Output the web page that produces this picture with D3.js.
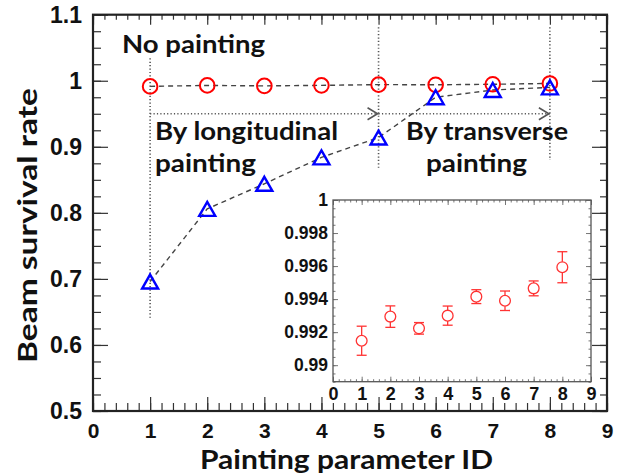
<!DOCTYPE html>
<html>
<head>
<meta charset="utf-8">
<script src="https://cdn.jsdelivr.net/npm/d3@7"></script>
<style>
  html, body { margin: 0; padding: 0; background: #fff; }
  svg { display: block; }
  .tick text { font-family: "Liberation Sans", Arial, sans-serif; font-weight: bold; fill: #111; }
  .title { font-family: "Lato", "Open Sans", sans-serif; font-weight: bold; fill: #111; }
</style>
</head>
<body>
<svg id="chart" width="625" height="475"></svg>
<script>
// Painting parameter IDs
const paramIds = [1, 2, 3, 4, 5, 6, 7, 8];
// Survival rate, circle series (with statistical errors)
const circleRate = [0.99148, 0.99294, 0.99223, 0.99300, 0.99415, 0.99390, 0.99465, 0.99593];
const circleErr  = [0.00088, 0.00065, 0.00035, 0.00058, 0.00042, 0.00059, 0.00045, 0.00094];
// Survival rate, triangle series
const triangleRate = [0.696, 0.806, 0.844, 0.884, 0.914, 0.975, 0.986, 0.990];

// Axis tick values
const xMajor = [0, 1, 2, 3, 4, 5, 6, 7, 8, 9];
const yMajor = [0.5, 0.6, 0.7, 0.8, 0.9, 1.0, 1.1];
const yMajorLabels = ["0.5", "0.6", "0.7", "0.8", "0.9", "1", "1.1"];
const insetYMajor = [0.990, 0.992, 0.994, 0.996, 0.998, 1.0];
const insetYLabels = ["0.99", "0.992", "0.994", "0.996", "0.998", "1"];

// Annotation text
const labelNoPainting = "No painting";
const labelLong = ["By longitudinal", "painting"];
const labelTrans = ["By transverse", "painting"];
const xTitle = "Painting parameter ID";
const yTitle = "Beam survival rate";

const svg = d3.select("#chart");

const x = d3.scaleLinear().domain([0, 9]).range([93, 607]);
const y = d3.scaleLinear().domain([0.5, 1.1]).range([411, 14.7]);

const frameColor = "#222";
const tickColor = "#333";

function minorValues(lo, hi, step) {
  const n = Math.round((hi - lo) / step);
  return d3.range(n + 1).map(i => +(lo + i * step).toFixed(6));
}

function styleAxis(g, color, width) {
  g.select(".domain").remove();
  g.selectAll(".tick line").attr("stroke", color).attr("stroke-width", width);
}

// ---- Main frame ticks (drawn inward) ----
const xMinor = minorValues(0, 9, 0.2);
const yMinor = minorValues(0.5, 1.1, 0.025);

// bottom
svg.append("g").attr("transform", `translate(0,${y(0.5)})`)
  .call(d3.axisBottom(x).tickValues(xMinor).tickSize(-8).tickFormat(""))
  .call(g => styleAxis(g, tickColor, 1.2));
svg.append("g").attr("transform", `translate(0,${y(0.5)})`)
  .call(d3.axisBottom(x).tickValues(xMajor).tickSize(-14).tickPadding(12).tickFormat(d3.format("d")))
  .call(g => styleAxis(g, tickColor, 1.2))
  .call(g => g.selectAll("text").style("font-size", "21px"));
// top
svg.append("g").attr("transform", `translate(0,${y(1.1)})`)
  .call(d3.axisTop(x).tickValues(xMinor).tickSize(-5).tickFormat(""))
  .call(g => styleAxis(g, tickColor, 1.2));
svg.append("g").attr("transform", `translate(0,${y(1.1)})`)
  .call(d3.axisTop(x).tickValues(xMajor).tickSize(-10).tickFormat(""))
  .call(g => styleAxis(g, tickColor, 1.2));
// left
svg.append("g").attr("transform", `translate(${x(0)},0)`)
  .call(d3.axisLeft(y).tickValues(yMinor).tickSize(-8).tickFormat(""))
  .call(g => styleAxis(g, tickColor, 1.2));
svg.append("g").attr("transform", `translate(${x(0)},0)`)
  .call(d3.axisLeft(y).tickValues(yMajor).tickSize(-15).tickPadding(11)
    .tickFormat((d, i) => yMajorLabels[i]))
  .call(g => styleAxis(g, tickColor, 1.2))
  .call(g => g.selectAll("text").style("font-size", "23px"));
// right
svg.append("g").attr("transform", `translate(${x(9)},0)`)
  .call(d3.axisRight(y).tickValues(yMinor).tickSize(-7).tickFormat(""))
  .call(g => styleAxis(g, tickColor, 1.2));
svg.append("g").attr("transform", `translate(${x(9)},0)`)
  .call(d3.axisRight(y).tickValues(yMajor).tickSize(-15).tickFormat(""))
  .call(g => styleAxis(g, tickColor, 1.2));

// frame
svg.append("rect")
  .attr("x", x(0)).attr("y", y(1.1))
  .attr("width", x(9) - x(0)).attr("height", y(0.5) - y(1.1))
  .attr("fill", "none").attr("stroke", frameColor).attr("stroke-width", 2.2);

// ---- Guide lines (dotted) ----
const guide = svg.append("g").attr("stroke", "#555").attr("stroke-width", 1.6)
  .attr("stroke-dasharray", "1.2,2.2").attr("fill", "none");
guide.append("line").attr("x1", x(1)).attr("x2", x(1)).attr("y1", y(1.034)).attr("y2", y(0.641));
guide.append("line").attr("x1", x(5)).attr("x2", x(5)).attr("y1", y(1.081)).attr("y2", y(0.868));
guide.append("line").attr("x1", x(8)).attr("x2", x(8)).attr("y1", y(1.081)).attr("y2", y(0.88));
guide.append("line").attr("x1", x(1)).attr("x2", x(5)).attr("y1", y(0.95)).attr("y2", y(0.95));
guide.append("line").attr("x1", x(5)).attr("x2", x(8)).attr("y1", y(0.95)).attr("y2", y(0.95));

// open arrow heads
const heads = svg.append("g").attr("stroke", "#555").attr("stroke-width", 1.6).attr("fill", "none");
[5, 8].forEach(v => {
  const px = x(v) - 1, py = y(0.95);
  heads.append("path").attr("d", `M${px - 10},${py - 6}L${px},${py}L${px - 10},${py + 6}`);
});

// ---- Series lines (dashed) ----
const line = d3.line().x((d, i) => x(paramIds[i])).y(d => y(d));
svg.append("path").datum(circleRate).attr("d", line)
  .attr("fill", "none").attr("stroke", "#444").attr("stroke-width", 1.4).attr("stroke-dasharray", "5,4");
svg.append("path").datum(triangleRate).attr("d", line)
  .attr("fill", "none").attr("stroke", "#444").attr("stroke-width", 1.4).attr("stroke-dasharray", "5,4");

// ---- Markers ----
svg.append("g").selectAll("circle").data(circleRate).join("circle")
  .attr("cx", (d, i) => x(paramIds[i])).attr("cy", d => y(d)).attr("r", 7.3)
  .attr("fill", "none").attr("stroke", "#f00").attr("stroke-width", 2);

const triW = 16, triH = 14;
svg.append("g").selectAll("path").data(triangleRate).join("path")
  .attr("d", (d, i) => {
    const cx = x(paramIds[i]), cy = y(d);
    return `M${cx},${cy - triH / 2}L${cx + triW / 2},${cy + triH / 2}L${cx - triW / 2},${cy + triH / 2}Z`;
  })
  .attr("fill", "none").attr("stroke", "#00f").attr("stroke-width", 2.4).attr("stroke-linejoin", "miter");

// ---- Annotations ----
function label(txt, x0, yb, size, len) {
  svg.append("text").attr("class", "title").attr("x", x0).attr("y", yb)
    .style("font-size", size + "px")
    .attr("textLength", len).attr("lengthAdjust", "spacingAndGlyphs")
    .text(txt);
}
label(labelNoPainting, 122, 53, 24, 143);
label(labelLong[0], 155, 140, 24, 183);
label(labelLong[1], 155, 172, 24, 101);
label(labelTrans[0], 406, 140, 24, 162);
label(labelTrans[1], 426, 172, 24, 101);

// axis titles
svg.append("text").attr("class", "title")
  .attr("x", 200).attr("y", 469).style("font-size", "27px")
  .attr("textLength", 293).attr("lengthAdjust", "spacingAndGlyphs")
  .text(xTitle);
svg.append("text").attr("class", "title")
  .attr("transform", "translate(37,225.5) rotate(-90)")
  .attr("text-anchor", "middle").style("font-size", "27px")
  .attr("textLength", 275).attr("lengthAdjust", "spacingAndGlyphs")
  .text(yTitle);

// ---- Inset: zoom on the circle series ----
const xi = d3.scaleLinear().domain([0, 9]).range([333, 591]);
const yi = d3.scaleLinear().domain([0.989, 1.0]).range([381.7, 200]);
const inset = svg.append("g");

inset.append("rect").attr("x", xi(0)).attr("y", yi(1.0))
  .attr("width", xi(9) - xi(0)).attr("height", yi(0.989) - yi(1.0))
  .attr("fill", "#fff");

const ixMinor = minorValues(0, 9, 0.2);
const iyMinor = minorValues(0.989, 1.0, 0.0005);
const insetTick = "#777";

inset.append("g").attr("transform", `translate(0,${yi(0.989)})`)
  .call(d3.axisBottom(xi).tickValues(ixMinor).tickSize(-2.5).tickFormat(""))
  .call(g => styleAxis(g, insetTick, 1));
inset.append("g").attr("transform", `translate(0,${yi(0.989)})`)
  .call(d3.axisBottom(xi).tickValues(xMajor).tickSize(-5).tickPadding(5.5).tickFormat(d3.format("d")))
  .call(g => styleAxis(g, insetTick, 1))
  .call(g => g.selectAll("text").style("font-size", "18px"));
inset.append("g").attr("transform", `translate(0,${yi(1.0)})`)
  .call(d3.axisTop(xi).tickValues(ixMinor).tickSize(-2.5).tickFormat(""))
  .call(g => styleAxis(g, insetTick, 1));
inset.append("g").attr("transform", `translate(0,${yi(1.0)})`)
  .call(d3.axisTop(xi).tickValues(xMajor).tickSize(-5).tickFormat(""))
  .call(g => styleAxis(g, insetTick, 1));
inset.append("g").attr("transform", `translate(${xi(0)},0)`)
  .call(d3.axisLeft(yi).tickValues(iyMinor).tickSize(-2.5).tickFormat(""))
  .call(g => styleAxis(g, insetTick, 1));
inset.append("g").attr("transform", `translate(${xi(0)},0)`)
  .call(d3.axisLeft(yi).tickValues(insetYMajor).tickSize(-5).tickPadding(5)
    .tickFormat((d, i) => insetYLabels[i]))
  .call(g => styleAxis(g, insetTick, 1))
  .call(g => g.selectAll("text").style("font-size", "17.5px"));
inset.append("g").attr("transform", `translate(${xi(9)},0)`)
  .call(d3.axisRight(yi).tickValues(iyMinor).tickSize(-2.5).tickFormat(""))
  .call(g => styleAxis(g, insetTick, 1));
inset.append("g").attr("transform", `translate(${xi(9)},0)`)
  .call(d3.axisRight(yi).tickValues(insetYMajor).tickSize(-5).tickFormat(""))
  .call(g => styleAxis(g, insetTick, 1));

inset.append("rect").attr("x", xi(0)).attr("y", yi(1.0))
  .attr("width", xi(9) - xi(0)).attr("height", yi(0.989) - yi(1.0))
  .attr("fill", "none").attr("stroke", "#555").attr("stroke-width", 1.3);

// error bars and markers
const insetRed = "#f33";
const rI = 5.4, cap = 5;
const pts = inset.append("g").attr("stroke", insetRed).attr("stroke-width", 1.3).attr("fill", "none");
circleRate.forEach((v, i) => {
  const cx = xi(paramIds[i]), cy = yi(v);
  const yTop = yi(v + circleErr[i]), yBot = yi(v - circleErr[i]);
  if (cy - rI > yTop) pts.append("line").attr("x1", cx).attr("x2", cx).attr("y1", yTop).attr("y2", cy - rI);
  if (cy + rI < yBot) pts.append("line").attr("x1", cx).attr("x2", cx).attr("y1", cy + rI).attr("y2", yBot);
  pts.append("line").attr("x1", cx - cap).attr("x2", cx + cap).attr("y1", yTop).attr("y2", yTop);
  pts.append("line").attr("x1", cx - cap).attr("x2", cx + cap).attr("y1", yBot).attr("y2", yBot);
  pts.append("circle").attr("cx", cx).attr("cy", cy).attr("r", rI);
});
</script>
</body>
</html>
